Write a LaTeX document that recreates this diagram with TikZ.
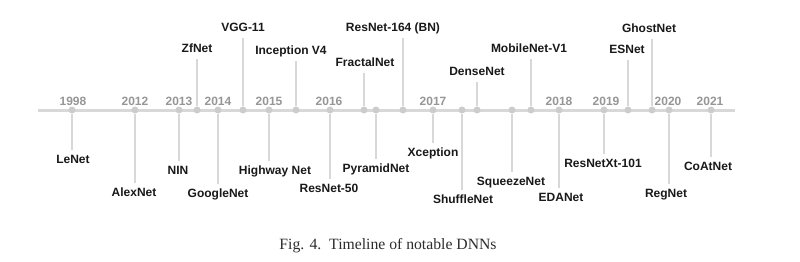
\documentclass[tikz,border=0pt]{standalone}
\usepackage{fontspec}
\setmainfont{Liberation Sans}
\newfontfamily\capfont{Liberation Serif}
\definecolor{axisgray}{RGB}{216,216,216}
\definecolor{dotgray}{RGB}{204,204,204}
\definecolor{yeargray}{RGB}{150,150,150}
\definecolor{labelblack}{RGB}{25,25,25}
\definecolor{captiongray}{RGB}{45,45,45}
\begin{document}
\begin{tikzpicture}[x=1pt,y=-1pt,
  axisline/.style={draw=axisgray,line width=3pt},
  stemline/.style={draw=axisgray,line width=1.8pt},
  tdot/.style={circle,fill=dotgray,inner sep=0pt,minimum size=7pt},
  netlabel/.style={font=\fontsize{12}{14}\selectfont\bfseries,text=labelblack,
    text height=9pt,text depth=2.5pt,inner sep=4pt},
  yearlabel/.style={font=\fontsize{12}{14}\selectfont\bfseries,text=yeargray,
    inner sep=0pt,anchor=base},
  captext/.style={font=\capfont\fontsize{15.7}{18}\selectfont,text=captiongray,
    inner sep=0pt,anchor=base}]
\useasboundingbox (0,0) rectangle (800,262);
\fill[white] (0,0) rectangle (800,262);
% axis
\coordinate (axL) at (38,110);
\coordinate (axR) at (735,110);
\draw[axisline] (axL) -- (axR);
% years
\foreach \yr/\yx in {1998/73,2012/135,2013/179,2014/218,2015/269,2016/329,
  2017/433,2018/559,2019/606,2020/668,2021/710}{
  \node[yearlabel] (y\yr) at (\yx,105) {\yr};
}
% networks
\foreach \id/\dx/\lx/\ly/\side/\txt in {
  lenet/72/73/159/north/LeNet,
  alexnet/135/134/192/north/AlexNet,
  nin/179/178/170/north/NIN,
  zfnet/197/197/48/south/ZfNet,
  googlenet/218/218/193/north/GoogleNet,
  vgg/243/243/27/south/VGG-11,
  highway/269/275/170/north/Highway Net,
  inception/296/291/50/south/Inception V4,
  resnetfifty/330/329/188/north/ResNet-50,
  fractal/364/365/62/south/FractalNet,
  pyramid/376/376/168/north/PyramidNet,
  resnetbn/403/393/27/south/ResNet-164 (BN),
  xception/433/433/152/north/Xception,
  shuffle/462/463/199/north/ShuffleNet,
  dense/477/477/71/south/DenseNet,
  squeeze/512/511/181/north/SqueezeNet,
  mobile/531/529/48/south/MobileNet-V1,
  edanet/559/561/197/north/EDANet,
  resnext/604/603/163/north/ResNetXt-101,
  esnet/628/627/49/south/ESNet,
  ghost/652/649/28/south/GhostNet,
  regnet/669/666/193/north/RegNet,
  coatnet/711/708/166/north/CoAtNet}{
  \node[tdot] (d\id) at (\dx,110) {};
  \node[netlabel] (l\id) at (\lx,\ly+1) {\txt};
  \draw[stemline] (d\id) -- (d\id |- l\id.\side);
}
% caption
\node[captext] (caption) at (388,249) {Fig. 4.\ \ Timeline of notable DNNs};
\end{tikzpicture}
\end{document}
